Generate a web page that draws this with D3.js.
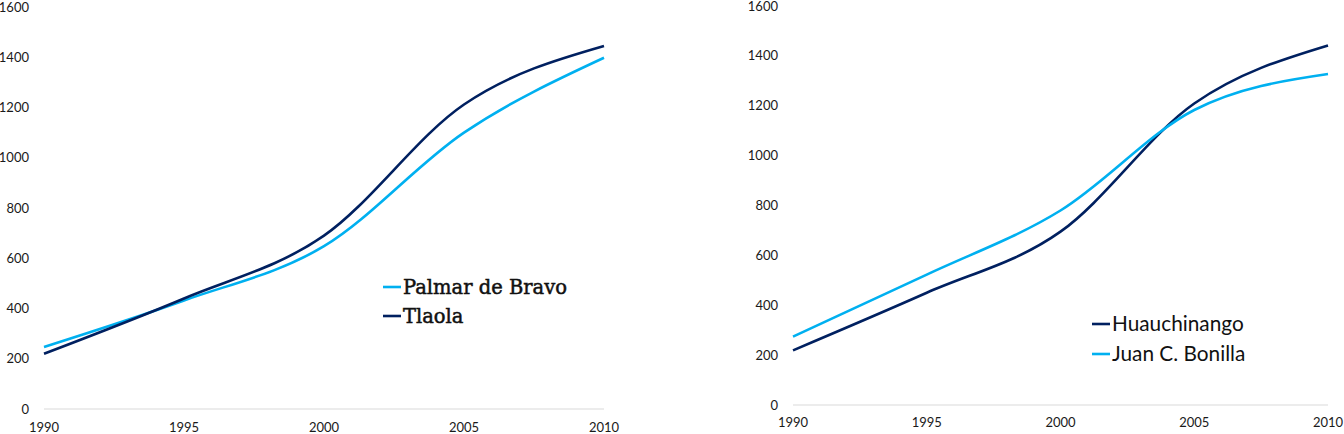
<!DOCTYPE html>
<html><head><meta charset="utf-8">
<script src="https://cdn.jsdelivr.net/npm/d3@7"></script>
<style>body{margin:0;background:#fff}svg{display:block}</style>
</head><body>
<svg id="c" width="1344" height="434"></svg>
<script>
const years = [1990, 1995, 2000, 2005, 2010];
const yTicks = [0, 200, 400, 600, 800, 1000, 1200, 1400, 1600];
const xTicks = [1990, 1995, 2000, 2005, 2010];
const palmarDeBravo = [247, 432, 648, 1100, 1398];
const tlaola = [220, 440, 690, 1212, 1445];
const huauchinango = [219, 450, 695, 1209, 1442];
const juanCBonilla = [274, 523, 780, 1183, 1327];
const lightBlue = "#00B0F0", navy = "#002060";

const panels = [
  {x0: 44, x1: 604, yTop: 7, yBot: 409, labelX: 29, xLabelY: 432,
   series: [{name: "Palmar de Bravo", values: palmarDeBravo, color: lightBlue},
            {name: "Tlaola", values: tlaola, color: navy}],
   legend: {x: 383, y: 287, dy: 29, font: "'DejaVu Serif', serif", size: 19.5, weight: "normal", stroke: 0.5}},
  {x0: 793, x1: 1328, yTop: 6, yBot: 405, labelX: 778, xLabelY: 427,
   series: [{name: "Huauchinango", values: huauchinango, color: navy},
            {name: "Juan C. Bonilla", values: juanCBonilla, color: lightBlue}],
   legend: {x: 1092, y: 324, dy: 30, font: "Lato, sans-serif", size: 20.8, weight: "normal", stroke: 0}}
];

const svg = d3.select("#c");
panels.forEach(p => {
  const x = d3.scaleLinear().domain([1990, 2010]).range([p.x0, p.x1]);
  const y = d3.scaleLinear().domain([0, 1600]).range([p.yBot, p.yTop]);
  const g = svg.append("g");
  g.append("line").attr("x1", p.x0).attr("x2", p.x1).attr("y1", y(0)).attr("y2", y(0))
    .attr("stroke", "#d9d9d9").attr("stroke-width", 1.2);
  g.selectAll(".yt").data(yTicks).join("text")
    .attr("x", p.labelX).attr("y", d => y(d)).attr("dy", "0.35em")
    .attr("text-anchor", "end").attr("font-family", "Lato, sans-serif")
    .attr("font-size", 13).attr("fill", "#1a1a1a").text(d => d);
  g.selectAll(".xt").data(xTicks).join("text")
    .attr("x", d => x(d)).attr("y", p.xLabelY)
    .attr("text-anchor", "middle").attr("font-family", "Lato, sans-serif")
    .attr("font-size", 13).attr("fill", "#1a1a1a").text(d => d);
  const line = d3.line().x((d, i) => x(years[i])).y(d => y(d)).curve(d3.curveMonotoneX);
  p.series.forEach(s => {
    g.append("path").attr("d", line(s.values)).attr("fill", "none")
      .attr("stroke", s.color).attr("stroke-width", 2.6);
  });
  const L = p.legend;
  p.series.forEach((s, k) => {
    const ly = L.y + k * L.dy;
    g.append("line").attr("x1", L.x).attr("x2", L.x + 18).attr("y1", ly).attr("y2", ly)
      .attr("stroke", s.color).attr("stroke-width", 2.6);
    g.append("text").attr("x", L.x + 20).attr("y", ly).attr("dy", "0.35em")
      .attr("font-family", L.font).attr("font-size", L.size).attr("font-weight", L.weight)
      .attr("fill", "#111").attr("stroke", L.stroke ? "#111" : "none").attr("stroke-width", L.stroke)
      .text(s.name);
  });
});
</script>
</body></html>
